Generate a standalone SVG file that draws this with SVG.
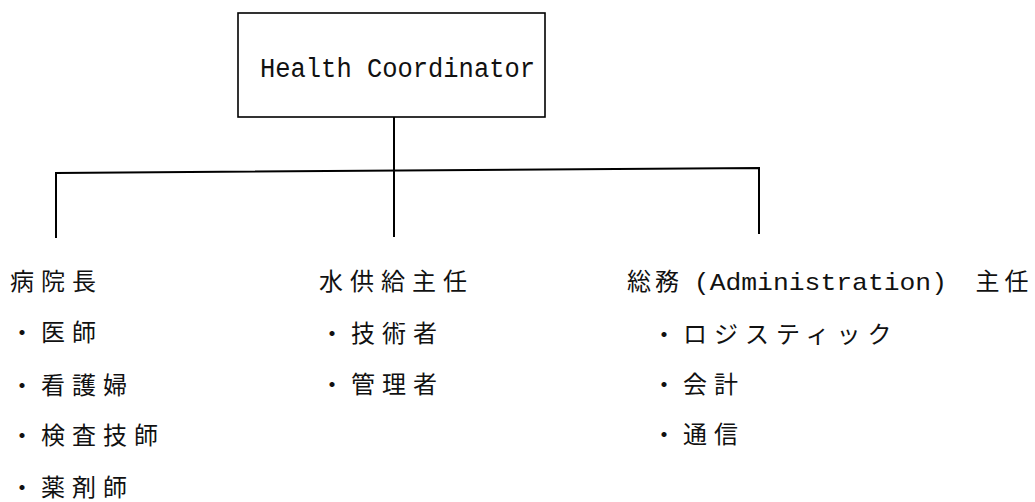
<svg xmlns="http://www.w3.org/2000/svg" width="1035" height="502" viewBox="0 0 1035 502">
<style>
.ln{stroke:#000;stroke-width:2;fill:none;stroke-linecap:square}
.box{stroke:#000;stroke-width:1.6;fill:#fff}
.jp{font-family:"Noto Sans CJK JP","Noto Sans CJK SC",sans-serif;font-size:24px;letter-spacing:7px;fill:#111}
.en{font-family:"Liberation Mono",monospace;fill:#111}
</style>
<rect width="1035" height="502" fill="#fff"/>
<g id="connectors">
<path class="ln" d="M394 118 V236"/>
<path class="ln" d="M56 237 V173 L759 168 V233"/>
</g>
<g id="health-coordinator">
<rect class="box" x="238" y="13" width="307" height="104"/>
<text class="en" x="260" y="77" font-size="27" textLength="275" lengthAdjust="spacingAndGlyphs">Health Coordinator</text>
</g>
<g id="hospital-director">
<text class="jp" x="10" y="290">病院長</text>
<text class="jp" x="10" y="341">・医師</text>
<text class="jp" x="10" y="394">・看護婦</text>
<text class="jp" x="10" y="444">・検査技師</text>
<text class="jp" x="10" y="496">・薬剤師</text>
</g>
<g id="water-supply">
<text class="jp" x="319" y="290">水供給主任</text>
<text class="jp" x="320" y="342">・技術者</text>
<text class="jp" x="320" y="393">・管理者</text>
</g>
<g id="administration">
<text class="jp" y="290"><tspan x="627" letter-spacing="4">総務</tspan><tspan class="en" x="678" font-size="24" letter-spacing="0" textLength="269" lengthAdjust="spacingAndGlyphs"> (Administration)</tspan><tspan x="965" letter-spacing="5"> 主任</tspan></text>
<text class="jp" x="652" y="343">・ロジスティック</text>
<text class="jp" x="652" y="393">・会計</text>
<text class="jp" x="652" y="443">・通信</text>
</g>
</svg>
